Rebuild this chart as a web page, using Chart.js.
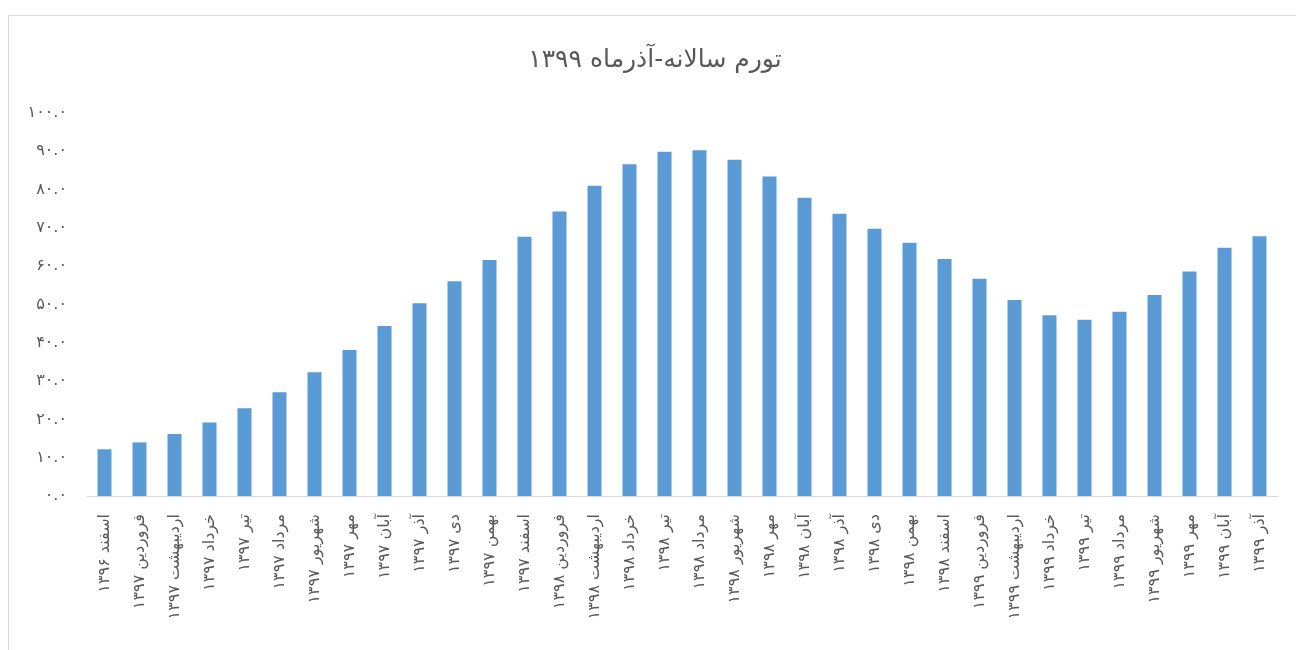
<!DOCTYPE html>
<html lang="fa">
<head>
    <meta charset="UTF-8">
    <title>تورم سالانه</title>
    <script src="https://cdn.jsdelivr.net/npm/chart.js@4.4.1/dist/chart.umd.min.js"></script>
    <style>
        body { margin: 0; background: #fff; }
        #frame {
            position: absolute; left: 8px; top: 15px; width: 1400px; height: 700px;
            border-left: 1px solid #d9d9d9; border-top: 1px solid #d9d9d9;
        }
        #wrap { position: absolute; left: 0; top: 0; width: 1296px; height: 650px; }
    </style>
</head>
<body>
    <div id="frame"></div>
    <div id="wrap"><canvas id="myChart" width="1296" height="650"></canvas></div>

<script>
    // categories (month + year, solar calendar)
    const labels = [
        'اسفند ۱۳۹۶',
        'فروردین ۱۳۹۷', 'اردیبهشت ۱۳۹۷', 'خرداد ۱۳۹۷', 'تیر ۱۳۹۷', 'مرداد ۱۳۹۷', 'شهریور ۱۳۹۷',
        'مهر ۱۳۹۷', 'آبان ۱۳۹۷', 'آذر ۱۳۹۷', 'دی ۱۳۹۷', 'بهمن ۱۳۹۷', 'اسفند ۱۳۹۷',
        'فروردین ۱۳۹۸', 'اردیبهشت ۱۳۹۸', 'خرداد ۱۳۹۸', 'تیر ۱۳۹۸', 'مرداد ۱۳۹۸', 'شهریور ۱۳۹۸',
        'مهر ۱۳۹۸', 'آبان ۱۳۹۸', 'آذر ۱۳۹۸', 'دی ۱۳۹۸', 'بهمن ۱۳۹۸', 'اسفند ۱۳۹۸',
        'فروردین ۱۳۹۹', 'اردیبهشت ۱۳۹۹', 'خرداد ۱۳۹۹', 'تیر ۱۳۹۹', 'مرداد ۱۳۹۹', 'شهریور ۱۳۹۹',
        'مهر ۱۳۹۹', 'آبان ۱۳۹۹', 'آذر ۱۳۹۹'
    ];

    // annual inflation, percent
    const inflation = [
        12.2, 14.0, 16.2, 19.2, 22.9, 27.1, 32.3, 38.1, 44.4, 50.3, 56.1, 61.6,
        67.7, 74.3, 81.0, 86.6, 89.9, 90.3, 87.8, 83.4, 77.9, 73.7,
        69.8, 66.1, 61.9, 56.7, 51.2, 47.2, 46.0, 48.1, 52.5, 58.6, 64.8, 67.8
    ];

    const yMin = 0, yMax = 100, yStep = 10;
    const titleText = 'تورم سالانه-آذرماه ۱۳۹۹';

    const faDigits = '۰۱۲۳۴۵۶۷۸۹';
    function toFa(str) { return String(str).replace(/[0-9]/g, d => faDigits[d]) }

    const fontFam = "'DejaVu Sans', sans-serif";

    // title is centred on the outer frame, not on the plot, so draw it by hand
    const frameTitle = {
        id: 'frameTitle',
        afterDraw(chart) {
            const ctx = chart.ctx;
            ctx.save();
            ctx.font = '25px ' + fontFam;
            ctx.fillStyle = '#595959';
            ctx.textAlign = 'center';
            ctx.textBaseline = 'middle';
            ctx.fillText(titleText, chart.width / 2 + 7, 60);
            ctx.restore();
        }
    };

    new Chart('myChart', {
        type: 'bar',
        data: {
            labels: labels,
            datasets: [{
                label: 'تورم سالانه',
                data: inflation,
                backgroundColor: '#5b9bd5',
                barPercentage: 0.8,
                categoryPercentage: 0.5
            }]
        },
        plugins: [frameTitle],
        options: {
            responsive: false,
            animation: false,
            layout: { padding: { left: 0, right: 19, top: 113, bottom: 0 } },
            plugins: {
                legend: { display: false },
                tooltip: { enabled: false },
                title: { display: false }
            },
            scales: {
                x: {
                    grid: { display: false },
                    border: { display: true, color: '#d9d9d9', width: 1 },
                    ticks: {
                        autoSkip: false,
                        maxRotation: 90,
                        minRotation: 90,
                        padding: 10,
                        color: '#595959',
                        font: { family: fontFam, size: 16 }
                    },
                    afterFit: s => { s.height = 154 }
                },
                y: {
                    min: yMin,
                    max: yMax,
                    grid: { display: false },
                    border: { display: false },
                    ticks: {
                        stepSize: yStep,
                        padding: 12,
                        color: '#595959',
                        font: { family: fontFam, size: 16 },
                        callback: v => toFa(v.toFixed(1))
                    },
                    afterFit: s => { s.width = 87 }
                }
            }
        }
    });
</script>
</body>
</html>
